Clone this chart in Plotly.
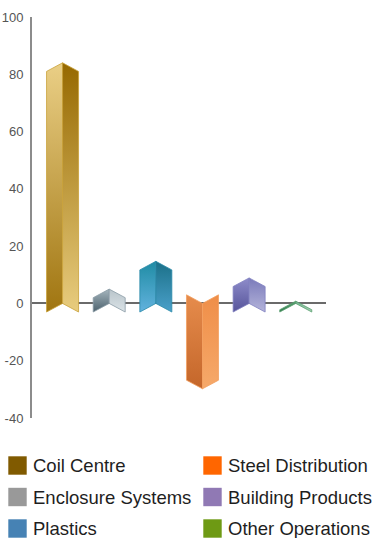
import plotly.graph_objects as go

# Segment results (percent change)
categories = ["Coil Centre", "Enclosure Systems", "Plastics",
              "Steel Distribution", "Building Products", "Other Operations"]
values = [84, 5, 14.7, -29.8, 8.9, 0.8]

# Legend swatch colours
legend_colors = ["#805a00", "#999999", "#4682b4", "#ff6600", "#9079b4", "#6e9a14"]

# Shading for the two visible faces of each prism: (bottom, top)
left_face = [("#a07510", "#eacf86"), ("#4c616d", "#a6b6be"), ("#62b2de", "#1f8ca4"),
             ("#c4662a", "#e68c4c"), ("#56549a", "#8e8cca"), ("#2f7a4c", "#5aa272")]
right_face = [("#e8cc7e", "#966900"), ("#dbe3e7", "#b8c4ca"), ("#4aa0ca", "#1b7088"),
              ("#f6a96a", "#ef8e48"), ("#b4b4da", "#7a7aba"), ("#a6d4b6", "#72b090")]
edge_colors = ["#c9a23a", "#8a9ca6", "#2a8aa8", "#f2a060", "#8080c0", "#5aa070"]

y_ticks = [-40, -20, 0, 20, 40, 60, 80, 100]
y_tick_labels = ["-40", "-20", "0", "20", "40", "60", "80", "100"]

HALF_W = 0.343   # half width of a prism, in category units
DEPTH = 3.0      # drop of the side corners relative to the front edge

W, H = 377, 538
M_L, M_R, M_T, M_B = 32, 51, 17, 120
PW, PH = W - M_L - M_R, H - M_T - M_B

fig = go.Figure()

for i, v in enumerate(values):
    s = 1 if v >= 0 else -1
    x0, xc, x1 = i - HALF_W, i, i + HALF_W
    lx = [x0, xc, xc, x0, x0]
    ly = [-s * DEPTH, 0, v, v - s * DEPTH, -s * DEPTH]
    rx = [xc, x1, x1, xc, xc]
    ry = [0, -s * DEPTH, v - s * DEPTH, v, 0]
    lb, lt = left_face[i]
    rb, rt = right_face[i]
    fig.add_trace(go.Scatter(
        x=lx, y=ly, mode="lines", fill="toself",
        line=dict(color=edge_colors[i], width=0.8),
        fillgradient=dict(type="vertical", colorscale=[[0, lb], [1, lt]]),
        hoverinfo="skip", showlegend=False))
    fig.add_trace(go.Scatter(
        x=rx, y=ry, mode="lines", fill="toself",
        line=dict(color=edge_colors[i], width=0.8),
        fillgradient=dict(type="vertical", colorscale=[[0, rb], [1, rt]]),
        name=categories[i], hovertemplate="%{fullData.name}: " + str(v) + "<extra></extra>",
        showlegend=False))


def px_to_paper(px, py):
    return (px - M_L) / PW, (H - M_B - py) / PH


# Two-column legend below the plot
for k, (name, col) in enumerate(zip(categories, legend_colors)):
    c, r = divmod(k, 3)
    sq_x = 8.3 + c * 195
    cy = 465.5 + r * 31.5
    ax0, ay0 = px_to_paper(sq_x, cy + 9.2)
    ax1, ay1 = px_to_paper(sq_x + 18.4, cy - 9.2)
    fig.add_shape(type="rect", xref="paper", yref="paper",
                  x0=ax0, y0=ay0, x1=ax1, y1=ay1,
                  fillcolor=col, line=dict(width=0))
    tx, ty = px_to_paper(sq_x + 23, cy)
    fig.add_annotation(xref="paper", yref="paper", x=tx, y=ty,
                       text=name, showarrow=False, xanchor="left", yanchor="middle",
                       font=dict(family="Liberation Sans, Arial, sans-serif", size=18.5,
                                 color="#1e1e1e"))

fig.update_layout(
    width=W, height=H,
    margin=dict(l=M_L, r=M_R, t=M_T, b=M_B, pad=0, autoexpand=False),
    paper_bgcolor="white", plot_bgcolor="white",
    showlegend=False,
    xaxis=dict(range=[-0.655, 5.648], visible=False, fixedrange=True,
               automargin=False),
    yaxis=dict(range=[-40, 100], tickvals=y_ticks, ticktext=y_tick_labels,
               showgrid=False,
               zeroline=True, zerolinecolor="#6a6a6a", zerolinewidth=1.5,
               showline=True, linecolor="#8c8c8c", linewidth=2,
               ticks="", ticklabelstandoff=4, automargin=False,
               tickfont=dict(family="Liberation Sans, Arial, sans-serif", size=13,
                             color="#555555"),
               fixedrange=True),
)

fig.write_html("out.html")
